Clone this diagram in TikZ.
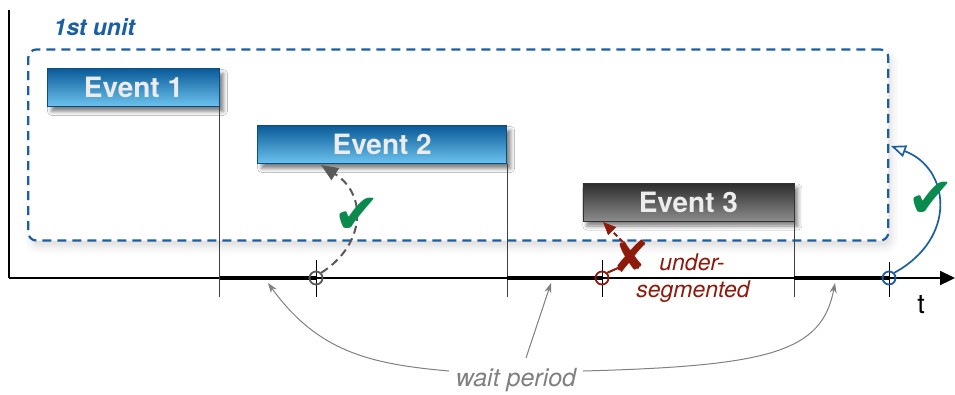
\documentclass[tikz,border=0pt]{standalone}
\usepackage{fontspec}
\setsansfont{TeX Gyre Heros}
\newfontfamily\symfont{DejaVu Sans}
\usetikzlibrary{arrows.meta,shadows.blur}

\definecolor{unitblue}{HTML}{1B5FA3}
\definecolor{evtop}{HTML}{0A5A98}
\definecolor{evbot}{HTML}{6CC3EE}
\definecolor{evborder}{HTML}{0B4C82}
\definecolor{evtext}{HTML}{ECECEC}
\definecolor{grtop}{HTML}{2C2C2C}
\definecolor{grbot}{HTML}{8C8C8C}
\definecolor{okgreen}{HTML}{0B8A4E}
\definecolor{badred}{HTML}{8E1A0C}
\definecolor{linegrey}{HTML}{5A5A5A}
\definecolor{notegrey}{HTML}{808080}

\tikzset{
  eventbox/.style={draw=evborder, line width=0.8pt, minimum height=38pt,
    inner sep=0pt, text=evtext,
    font=\sffamily\bfseries\fontsize{28}{32}\selectfont,
    blur shadow={shadow xshift=4pt, shadow yshift=-5pt,
      shadow blur radius=4pt, shadow opacity=50}},
  blueevent/.style={eventbox, top color=evtop, bottom color=evbot},
  greyevent/.style={eventbox, draw=black!80, top color=grtop, bottom color=grbot},
  eventline/.style={draw=black!75, line width=0.9pt},
  waitseg/.style={line width=3.8pt, black},
  marker/.style={circle, draw, line width=1.8pt, minimum size=13pt, inner sep=0pt},
  tickline/.style={draw=black, line width=0.9pt},
  tick/.style={font=\symfont\fontsize{56}{56}\selectfont, text=okgreen, inner sep=0pt},
  notearrow/.style={draw=notegrey, line width=1pt,
    -{Stealth[length=10pt,width=7pt]}},
}

\begin{document}
\begin{tikzpicture}[x=1pt,y=-1pt,font=\sffamily]
\useasboundingbox (0,0) rectangle (955,394);

% the unit region
\node[draw=unitblue, line width=2.2pt, dash pattern=on 9pt off 6pt,
      rounded corners=8pt, fill=white, minimum width=860pt,
      minimum height=191pt, inner sep=0pt,
      blur shadow={shadow xshift=3pt, shadow yshift=-6pt,
        shadow blur radius=8pt, shadow opacity=14}]
      (unit) at (458.3,145) {};
\node[anchor=base west, text=unitblue,
      font=\sffamily\bfseries\itshape\fontsize{23}{26}\selectfont]
      (unitlbl) at (50,35) {1st unit};

% axes
\coordinate (origin) at (9,278);
\coordinate (ytop) at (9,10);
\coordinate (tend) at (955,278);
\coordinate (tickbot) at (0,297);
\draw[line width=2.2pt] (origin) -- (ytop);
\draw[line width=2.2pt, -{Triangle[length=15pt,width=14pt]}] (origin) -- (tend);
\node[anchor=base, font=\sffamily\fontsize{27}{30}\selectfont] (tlbl) at (921,313) {t};

% events
\node[blueevent, minimum width=172pt] (ev1) at (133.5,87.5) {Event 1};
\node[blueevent, minimum width=249pt] (ev2) at (382.2,144.5) {Event 2};
\node[greyevent, minimum width=211pt] (ev3) at (688.4,202) {Event 3};

\draw[eventline] (ev1.south east) -- (ev1.south east |- tickbot);
\draw[eventline] (ev2.south east) -- (ev2.south east |- tickbot);
\draw[eventline] (ev3.south east) -- (ev3.south east |- tickbot);

% decision points
\coordinate (p1) at (316,278);
\coordinate (p2) at (602,278);
\coordinate (p3) at (889,278);

% wait periods
\draw[waitseg] (ev1.south east |- origin) -- (p1);
\draw[waitseg] (ev2.south east |- origin) -- (p2);
\draw[waitseg] (ev3.south east |- origin) -- (p3);

\draw[tickline] (316,260) -- (p1 |- tickbot);
\draw[tickline] (602,260) -- (p2 |- tickbot);
\draw[tickline] (889,262) -- (p3 |- tickbot);

\node[marker, draw=linegrey] (c1) at (p1) {};
\node[marker, draw=badred] (c2) at (p2) {};
\node[marker, draw=unitblue] (c3) at (p3) {};

% event 2 accepted
\coordinate (e2tip) at (321,165);
\draw[linegrey, line width=2pt, dash pattern=on 8pt off 5pt,
      -{Triangle[length=17pt,width=14pt]}]
  (c1.north east) .. controls (365,245) and (368,195) .. (e2tip);
\node[tick] (ok1) at (357,216) {✔};

% event 3 under-segmented
\coordinate (e3tip) at (603,222);
\coordinate (xtop) at (623,242);
\draw[badred, line width=2pt] (c2.north east) -- (618,268);
\draw[badred, line width=2pt, dash pattern=on 5pt off 3pt,
      -{Triangle[length=13pt,width=11pt]}] (xtop) -- (e3tip);
\node[font=\symfont\fontsize{44}{44}\selectfont, text=badred, inner sep=0pt]
  (bad) at (631,256) {✘};
\node[anchor=base, text=badred, font=\sffamily\itshape\fontsize{23}{26}\selectfont]
  (us1) at (692,270) {under-};
\node[anchor=base, text=badred, font=\sffamily\itshape\fontsize{23}{26}\selectfont]
  (us2) at (693,297) {segmented};

% unit closed
\coordinate (unittip) at (891,146);
\draw[unitblue, line width=1.7pt,
      -{Triangle[length=15pt,width=12pt,fill=white]}]
  (c3.north east) .. controls (958,238) and (950,168) .. (unittip);
\node[tick] (ok2) at (931,200) {✔};

% wait period notes
\node[anchor=base, text=notegrey, font=\sffamily\itshape\fontsize{25}{28}\selectfont]
  (wp) at (516,386) {wait period};
\coordinate (w1) at (268,283);
\coordinate (w2) at (551,283);
\coordinate (w3) at (835,283);
\coordinate (wl) at (449,371);
\coordinate (wm) at (526,358);
\coordinate (wr) at (583,371);
\draw[notearrow] (wl) .. controls (370,364) and (318,352) .. (w1);
\draw[notearrow] (wm) -- (w2);
\draw[notearrow] (wr) .. controls (770,366) and (822,352) .. (w3);
\end{tikzpicture}
\end{document}
